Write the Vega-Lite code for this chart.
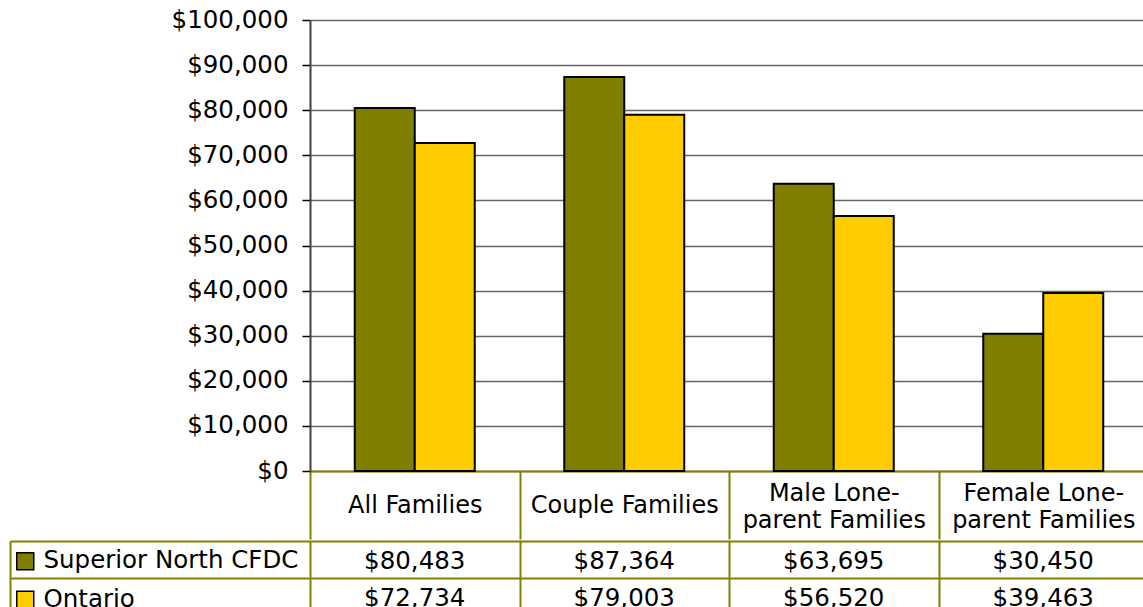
{
  "$schema": "https://vega.github.io/schema/vega-lite/v6.json",
  "padding": {"left": 9, "top": 7, "right": 0, "bottom": 0},
  "spacing": 0,
  "config": {
    "font": "DejaVu Sans",
    "view": {"stroke": null}
  },
  "datasets": {
    "d": [
      {"category": "All Families", "series": "Superior North CFDC", "value": 80483},
      {"category": "All Families", "series": "Ontario", "value": 72734},
      {"category": "Couple Families", "series": "Superior North CFDC", "value": 87364},
      {"category": "Couple Families", "series": "Ontario", "value": 79003},
      {"category": "Male Lone-parent Families", "series": "Superior North CFDC", "value": 63695},
      {"category": "Male Lone-parent Families", "series": "Ontario", "value": 56520},
      {"category": "Female Lone-parent Families", "series": "Superior North CFDC", "value": 30450},
      {"category": "Female Lone-parent Families", "series": "Ontario", "value": 39463}
    ]
  },
  "resolve": {"scale": {"x": "independent", "y": "independent"}},
  "vconcat": [
    {
      "width": 838,
      "height": 451,
      "data": {"name": "d"},
      "mark": {"type": "bar", "stroke": "black", "strokeWidth": 2},
      "encoding": {
        "x": {
          "field": "category",
          "type": "nominal",
          "sort": ["All Families", "Couple Families", "Male Lone-parent Families", "Female Lone-parent Families"],
          "scale": {"paddingInner": 0, "paddingOuter": 0},
          "axis": {
            "title": null,
            "orient": "bottom",
            "domainColor": "#808000",
            "domainWidth": 2,
            "tickColor": "#808000",
            "tickWidth": 2,
            "tickSize": 68,
            "tickBand": "extent",
            "labelAngle": 0,
            "labelFontSize": 24,
            "labelColor": "black",
            "labelBaseline": {"condition": {"test": "indexof(datum.label, 'Lone') >= 0", "value": "bottom"}, "value": "middle"},
            "labelLineHeight": 27,
            "labelPadding": -34,
            "labelLimit": 400,
            "labelOverlap": false,
            "labelExpr": "split(replace(datum.label, 'Lone-', 'Lone-|'), '|')"
          }
        },
        "xOffset": {
          "field": "series",
          "type": "nominal",
          "sort": ["Superior North CFDC", "Ontario"],
          "scale": {"paddingInner": 0, "paddingOuter": 0.746}
        },
        "y": {
          "field": "value",
          "type": "quantitative",
          "scale": {"domain": [0, 100000]},
          "axis": {
            "title": null,
            "values": [0, 10000, 20000, 30000, 40000, 50000, 60000, 70000, 80000, 90000, 100000],
            "format": "$,.0f",
            "labelFontSize": 24.5,
            "labelColor": "black",
            "labelPadding": 14,
            "tickSize": 8,
            "tickColor": "black",
            "tickWidth": 1.5,
            "domainColor": "#404040",
            "domainWidth": 2,
            "grid": true,
            "gridColor": "#666666",
            "gridWidth": 1.5
          }
        },
        "color": {
          "field": "series",
          "type": "nominal",
          "sort": ["Superior North CFDC", "Ontario"],
          "scale": {"range": ["#808000", "#FFCC00"]},
          "legend": {
            "orient": "none",
            "legendX": -297,
            "legendY": 529,
            "title": null,
            "padding": 0,
            "symbolType": "square",
            "symbolSize": 289,
            "symbolStrokeColor": "black",
            "symbolStrokeWidth": 1.5,
            "symbolOpacity": 1,
            "labelFontSize": 24.5,
            "labelColor": "black",
            "labelOffset": 6,
            "rowPadding": 13.5,
            "labelLimit": 400
          }
        }
      }
    },
    {
      "width": 838,
      "height": 74,
      "data": {"name": "d"},
      "mark": {"type": "text", "fontSize": 24.5, "color": "black", "baseline": "middle", "dy": 2},
      "encoding": {
        "x": {
          "field": "category",
          "type": "nominal",
          "sort": ["All Families", "Couple Families", "Male Lone-parent Families", "Female Lone-parent Families"],
          "scale": {"paddingInner": 0, "paddingOuter": 0},
          "axis": {
            "title": null,
            "orient": "top",
            "labels": false,
            "ticks": false,
            "domain": false,
            "grid": true,
            "gridColor": "#808000",
            "gridWidth": 2,
            "tickBand": "extent"
          }
        },
        "y": {
          "field": "series",
          "type": "nominal",
          "sort": ["Superior North CFDC", "Ontario"],
          "scale": {"paddingInner": 0, "paddingOuter": 0},
          "axis": {
            "title": null,
            "labels": false,
            "offset": 300,
            "tickSize": -300,
            "tickBand": "extent",
            "tickColor": "#808000",
            "tickWidth": 2,
            "domainColor": "#808000",
            "domainWidth": 2,
            "grid": true,
            "gridColor": "#808000",
            "gridWidth": 2
          }
        },
        "text": {"field": "value", "type": "quantitative", "format": "$,.0f"}
      }
    }
  ]
}
